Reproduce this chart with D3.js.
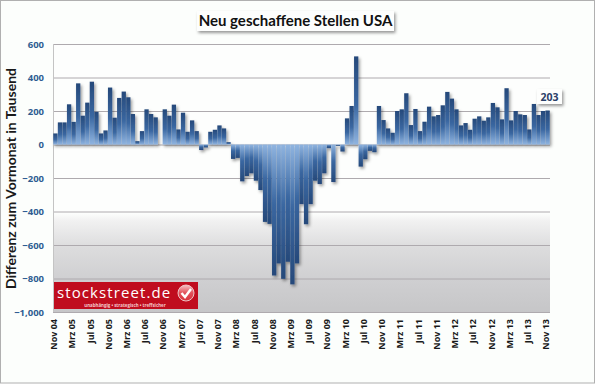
<!DOCTYPE html>
<html>
<head>
<meta charset="utf-8">
<script src="https://cdnjs.cloudflare.com/ajax/libs/d3/7.8.5/d3.min.js"></script>
<style>
	html, body { margin: 0; padding: 0; background: #fff; }
	svg { display: block; }
	.domain { display: none; }
</style>
</head>
<body>
<svg id="chart" width="595" height="384"></svg>
<script>
const months = [
	'Nov 04', 'Dez 04',
	'Jan 05', 'Feb 05', 'Mrz 05', 'Apr 05', 'Mai 05', 'Jun 05', 'Jul 05', 'Aug 05', 'Sep 05', 'Okt 05', 'Nov 05', 'Dez 05',
	'Jan 06', 'Feb 06', 'Mrz 06', 'Apr 06', 'Mai 06', 'Jun 06', 'Jul 06', 'Aug 06', 'Sep 06', 'Okt 06', 'Nov 06', 'Dez 06',
	'Jan 07', 'Feb 07', 'Mrz 07', 'Apr 07', 'Mai 07', 'Jun 07', 'Jul 07', 'Aug 07', 'Sep 07', 'Okt 07', 'Nov 07', 'Dez 07',
	'Jan 08', 'Feb 08', 'Mrz 08', 'Apr 08', 'Mai 08', 'Jun 08', 'Jul 08', 'Aug 08', 'Sep 08', 'Okt 08', 'Nov 08', 'Dez 08',
	'Jan 09', 'Feb 09', 'Mrz 09', 'Apr 09', 'Mai 09', 'Jun 09', 'Jul 09', 'Aug 09', 'Sep 09', 'Okt 09', 'Nov 09', 'Dez 09',
	'Jan 10', 'Feb 10', 'Mrz 10', 'Apr 10', 'Mai 10', 'Jun 10', 'Jul 10', 'Aug 10', 'Sep 10', 'Okt 10', 'Nov 10', 'Dez 10',
	'Jan 11', 'Feb 11', 'Mrz 11', 'Apr 11', 'Mai 11', 'Jun 11', 'Jul 11', 'Aug 11', 'Sep 11', 'Okt 11', 'Nov 11', 'Dez 11',
	'Jan 12', 'Feb 12', 'Mrz 12', 'Apr 12', 'Mai 12', 'Jun 12', 'Jul 12', 'Aug 12', 'Sep 12', 'Okt 12', 'Nov 12', 'Dez 12',
	'Jan 13', 'Feb 13', 'Mrz 13', 'Apr 13', 'Mai 13', 'Jun 13', 'Jul 13', 'Aug 13', 'Sep 13', 'Okt 13', 'Nov 13',
];

const jobs = [
	66, 132,
	132, 240, 135, 365, 172, 250, 375, 195, 66, 84, 340, 160,
	278, 316, 282, 182, 20, 80, 210, 182, 162, 0, 210, 172,
	238, 90, 190, 76, 144, 80, -33, -18, 76, 88, 114, 96,
	14, -86, -80, -220, -188, -172, -216, -272, -462, -474, -782, -710,
	-802, -700, -835, -710, -356, -476, -356, -216, -236, -172, -22, -224,
	-8, -42, 156, 230, 526, -132, -88, -38, -46, 230, 146, 96,
	70, 200, 210, 306, 116, 212, 80, 136, 226, 168, 176, 234,
	314, 274, 210, 114, 128, 88, 154, 168, 142, 162, 248, 222,
	150, 336, 144, 200, 180, 176, 90, 242, 176, 200, 203,
];

const xTicks = months.filter((m, i) => i % 4 === 0);
const yTicks = [600, 400, 200, 0, -200, -400, -600, -800, -1000];

const svg = d3.select('#chart');
const plotLeft = 53, plotRight = 550, plotTop = 44, plotBottom = 312;

const x = d3.scaleBand().domain(months).range([plotLeft, plotRight]).padding(0.06);
const y = d3.scaleLinear().domain([-1000, 600]).range([plotBottom, plotTop]);

const defs = svg.append('defs');

function gradient(id, stops) {
	const g = defs.append('linearGradient').attr('id', id)
		.attr('x1', 0).attr('y1', 0).attr('x2', 0).attr('y2', 1);
	stops.forEach((s) => g.append('stop').attr('offset', s[0]).attr('stop-color', s[1]));
}

gradient('barUp', [[0, '#26497a'], [0.55, '#3a67a1'], [1, '#8fb4e0']]);
gradient('barDown', [[0, '#8fb4e0'], [0.45, '#3a67a1'], [1, '#26497a']]);
gradient('plotBg', [[0, '#fdfefd'], [0.63, '#fdfefd'], [0.66, '#f1f1f1'], [0.76, '#dcdcdd'], [0.88, '#cfcfd1'], [1, '#c6c6c8']]);
gradient('check', [[0, '#f6c3c5'], [0.5, '#e2505a'], [1, '#d9303a']]);

const shadow = defs.append('filter').attr('id', 'shadow')
	.attr('x', '-20%').attr('y', '-20%').attr('width', '140%').attr('height', '150%');
shadow.append('feDropShadow').attr('dx', 1.5).attr('dy', 2).attr('stdDeviation', 1.5)
	.attr('flood-color', '#000').attr('flood-opacity', 0.4);

// frame
svg.append('rect').attr('x', 0.5).attr('y', 0.5).attr('width', 594).attr('height', 382.5)
	.attr('fill', '#fcfefc').attr('stroke', '#b0b0b0');

// plot background
svg.append('rect').attr('x', plotLeft).attr('y', plotTop).attr('width', plotRight - plotLeft).attr('height', plotBottom - plotTop)
	.attr('fill', 'url(#plotBg)');

// grid + y axis
const yAxis = svg.append('g').attr('transform', `translate(${plotLeft},0)`)
	.call(d3.axisLeft(y).tickValues(yTicks).tickSize(-(plotRight - plotLeft)).tickPadding(9));
yAxis.selectAll('line').attr('stroke', '#aeaaae').attr('stroke-width', 1);
yAxis.selectAll('text')
	.attr('fill', '#2f5d92')
	.style('font', 'bold 9.5px "Open Sans", sans-serif');

svg.append('line').attr('x1', plotLeft + 0.5).attr('x2', plotLeft + 0.5).attr('y1', plotTop).attr('y2', plotBottom)
	.attr('stroke', '#c4c4c4');

// bars
svg.append('g').attr('filter', 'url(#shadow)')
	.selectAll('rect')
	.data(jobs)
	.enter()
	.append('rect')
	.attr('x', (d, i) => x(months[i]))
	.attr('width', x.bandwidth())
	.attr('y', (d) => y(Math.max(d, 0)))
	.attr('height', (d) => Math.abs(y(d) - y(0)))
	.attr('fill', (d) => (d < 0 ? 'url(#barDown)' : 'url(#barUp)'));

// x axis
const xAxis = svg.append('g').attr('transform', `translate(0,${plotBottom})`)
	.call(d3.axisBottom(x).tickValues(xTicks).tickSize(0));
xAxis.selectAll('text')
	.attr('transform', 'rotate(-90)')
	.attr('text-anchor', 'end')
	.attr('x', -7)
	.attr('y', -1.5)
	.attr('dy', '0.35em')
	.attr('fill', '#1a1a1a')
	.style('font', 'bold 9px "Open Sans", sans-serif');

// y title
svg.append('text')
	.attr('transform', `translate(15.5,178.5) rotate(-90)`)
	.attr('text-anchor', 'middle')
	.attr('fill', '#1a1a1a')
	.style('font', 'bold 14px Lato, sans-serif')
	.text('Differenz zum Vormonat in Tausend');

// title
svg.append('rect').attr('x', 197).attr('y', 11).attr('width', 197).attr('height', 20)
	.attr('fill', '#fdfefd').attr('filter', 'url(#shadow)');
svg.append('text').attr('x', 295.5).attr('y', 26).attr('text-anchor', 'middle')
	.attr('fill', '#111')
	.style('font', 'bold 15px Lato, sans-serif')
	.text('Neu geschaffene Stellen USA');

// last value label
svg.append('rect').attr('x', 537).attr('y', 89).attr('width', 25).attr('height', 15)
	.attr('fill', '#fdfefd').attr('filter', 'url(#shadow)');
svg.append('text').attr('x', 549.5).attr('y', 100.5).attr('text-anchor', 'middle')
	.attr('fill', '#2a4068')
	.style('font', 'bold 10.5px "Open Sans", sans-serif')
	.text(jobs[jobs.length - 1]);

// logo
const logo = svg.append('g');
logo.append('rect').attr('x', 54).attr('y', 282).attr('width', 144).attr('height', 27)
	.attr('fill', '#c00d1e');
logo.append('text').attr('x', 57).attr('y', 297.5)
	.attr('fill', '#fff')
	.style('font', '15px "Open Sans", sans-serif')
	.style('letter-spacing', '1.1px')
	.text('stockstreet.de');
logo.append('text').attr('x', 125).attr('y', 307).attr('text-anchor', 'middle')
	.attr('fill', '#f4c9cc')
	.style('font', 'bold 4.4px "Open Sans", sans-serif')
	.text('unabhängig • strategisch • treffsicher');
logo.append('circle').attr('cx', 186).attr('cy', 293).attr('r', 8)
	.attr('fill', 'url(#check)').attr('stroke', '#eec4c6');
logo.append('path').attr('d', 'M181.5 293 L185 297 L191 289')
	.attr('fill', 'none').attr('stroke', '#fff').attr('stroke-width', 2.4);
</script>
</body>
</html>
